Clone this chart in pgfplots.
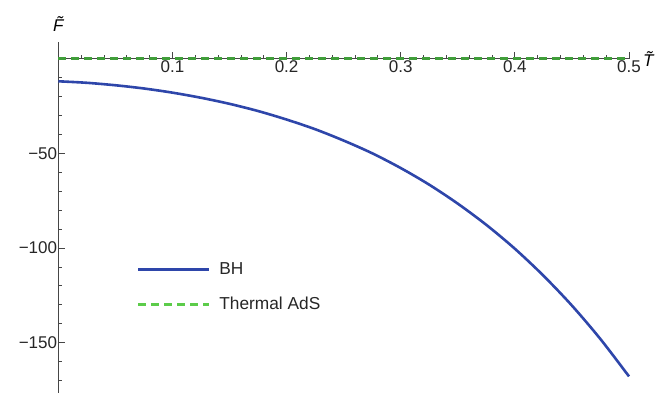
\documentclass[border=0pt]{standalone}
\usepackage{fontspec}
\setmainfont{Liberation Sans}
\usepackage{pgfplots}
\pgfplotsset{compat=1.18}
\definecolor{bhblue}{RGB}{46,70,170}
\definecolor{adsgreen}{RGB}{92,204,74}
\definecolor{adsgreendark}{RGB}{64,158,58}
\definecolor{axgray}{RGB}{70,70,70}
\newcommand{\bigfont}{\fontsize{17}{20.4}\selectfont}
\begin{document}
\begin{tikzpicture}[font=\bigfont]
\path[use as bounding box] (-58.3pt,-3.3pt) rectangle (605.7pt,392.7pt);
\begin{axis}[
  at={(0pt,0pt)}, anchor=south west,
  scale only axis, width=570.7pt, height=351pt,
  xmin=0, xmax=0.5, ymin=-176.4, ymax=8.9,
  axis lines=middle,
  axis line style={-, draw=axgray, line width=0.9pt},
  tick align=inside,
  xtick={0.1,0.2,0.3,0.4,0.5},
  xticklabels={0.1,0.2,0.3,0.4,0.5},
  minor xtick={0.02,0.04,0.06,0.08,0.12,0.14,0.16,0.18,0.22,0.24,0.26,0.28,0.32,0.34,0.36,0.38,0.42,0.44,0.46,0.48},
  ytick={-150,-100,-50},
  yticklabels={−150,−100,−50},
  minor ytick={-170,-160,-140,-130,-120,-110,-90,-80,-70,-60,-40,-30,-20,-10},
  major tick length=7pt, minor tick length=4pt,
  every tick/.style={draw=axgray, line width=0.8pt},
  xticklabel style={anchor=north, inner sep=0pt, yshift=-2pt, text=black!85, font=\bigfont},
  yticklabel style={anchor=east, inner sep=0pt, xshift=-1pt, text=black!85, font=\bigfont},
  clip=false,
  legend cell align=left,
  legend style={at={(axis cs:0.0686,-120.6)}, anchor=west, draw=none, fill=none,
    inner sep=0pt, row sep=21pt, column sep=0pt,
    nodes={inner sep=0pt, text=black!85}},
  legend image code/.code={\draw[#1] (0pt,0pt) -- (70.6pt,0pt); \path (80pt,0pt);},
]
\addplot[bhblue, line width=2.6pt, smooth] coordinates {
(0,-12.0) (0.025,-12.8) (0.05,-14.1) (0.075,-15.8) (0.1,-18.0)
(0.125,-20.7) (0.15,-23.9) (0.175,-27.7) (0.2,-32.2) (0.225,-37.3)
(0.25,-43.3) (0.275,-50.0) (0.3,-57.8) (0.325,-66.6) (0.35,-76.6)
(0.375,-87.8) (0.4,-100.4) (0.425,-114.6) (0.45,-130.4) (0.475,-148.1)
(0.5,-167.8)};
\addlegendentry{\fontsize{17.3}{20.8}\selectfont BH}
\addplot[adsgreendark, line width=2.4pt, dash pattern=on 8pt off 5pt, forget plot] coordinates {(0,0) (0.5,0)};
\addlegendimage{adsgreen, line width=2.6pt, dash pattern=on 8pt off 5pt}
\addlegendentry{\fontsize{17.3}{20.8}\selectfont Thermal AdS}
\node[inner sep=0pt, anchor=west, font=\bigfont] at (axis cs:0.5,0) [xshift=14pt] {\textit{\~T}};
\node[inner sep=0pt, anchor=south, font=\bigfont] at (axis cs:0,8.9) [yshift=9.7pt] {\textit{\~F}};
\end{axis}
\end{tikzpicture}
\end{document}
